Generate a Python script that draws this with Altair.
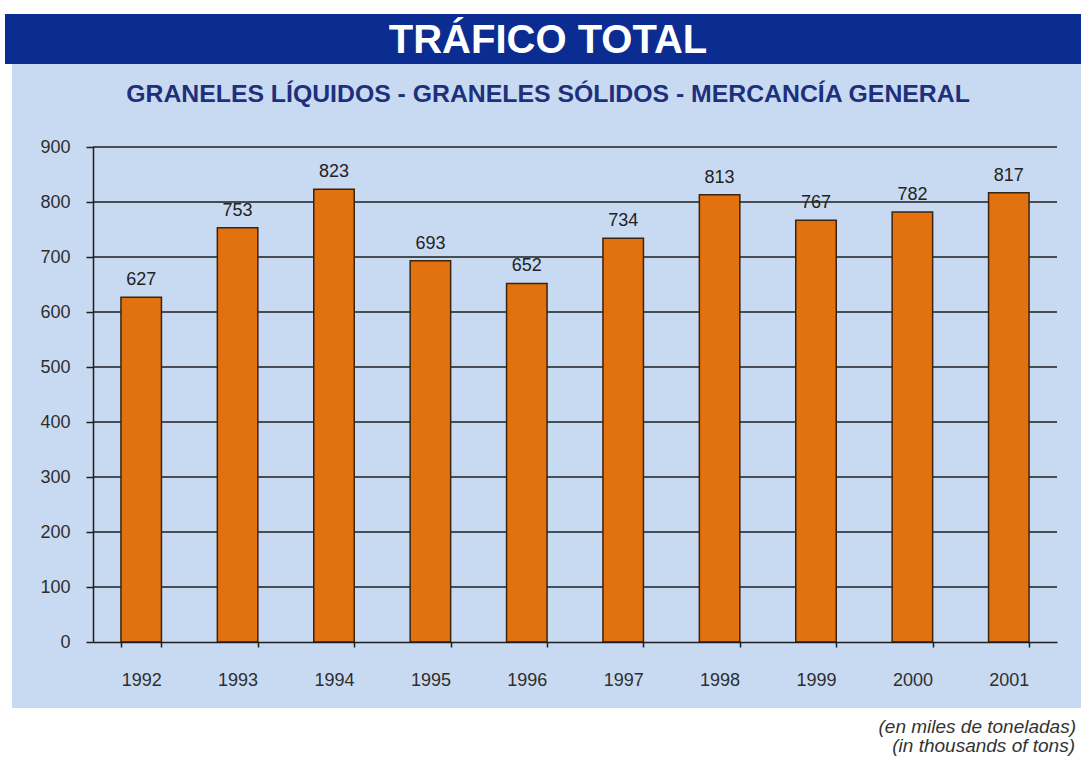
import altair as alt
import pandas as pd

years = ["1992", "1993", "1994", "1995", "1996", "1997", "1998", "1999", "2000", "2001"]
values = [627, 753, 823, 693, 652, 734, 813, 767, 782, 817]
y_ticks = [0, 100, 200, 300, 400, 500, 600, 700, 800, 900]
grid_lines = [100, 200, 300, 400, 500, 600, 700, 800, 900]

title_text = "TRÁFICO TOTAL"
subtitle_text = "GRANELES LÍQUIDOS - GRANELES SÓLIDOS - MERCANCÍA GENERAL"
note_lines = ["(en miles de toneladas)", "(in thousands of tons)"]

df = pd.DataFrame({"year": years, "value": values})
grid_df = pd.DataFrame({"value": grid_lines})
one = pd.DataFrame({"a": [0]})

W, H = 964, 495
FONT = "Liberation Sans, Arial, sans-serif"
DARK = "#1e1e1e"

y_scale = alt.Scale(domain=[0, 900], nice=False)
x_scale = alt.Scale(paddingInner=0.58, paddingOuter=0.29)

y_axis = alt.Axis(title=None, values=y_ticks, grid=False, labelFontSize=18,
                  labelColor="#2e2e2e", labelFont=FONT, labelPadding=16, tickSize=7,
                  tickColor=DARK, tickWidth=1.5, domainColor=DARK, domainWidth=1.5,
                  zindex=1)

x_enc = alt.X(
    "year:N", sort=years, scale=x_scale,
    axis=alt.Axis(title=None, labelFontSize=18, labelColor="#2e2e2e", labelFont=FONT,
                  labelPadding=24, labelAngle=0, tickBand="extent", tickSize=5,
                  tickColor=DARK, tickWidth=1.5, domainColor=DARK, domainWidth=1.5,
                  grid=False, zindex=1),
)

panel = alt.Chart(one).mark_rect(color="#c8daf2").encode(
    x=alt.value(-81), x2=alt.value(988), y=alt.value(-83), y2=alt.value(561)
)
banner = alt.Chart(one).mark_rect(color="#0b2c91").encode(
    x=alt.value(-88), x2=alt.value(988), y=alt.value(-133), y2=alt.value(-83)
)
grid = alt.Chart(grid_df).mark_rule(color=DARK, strokeWidth=1.5).encode(
    y=alt.Y("value:Q", scale=y_scale, axis=y_axis)
)
bars = alt.Chart(df).mark_bar(color="#e2720f", stroke="#3a2410", strokeWidth=1.5).encode(
    x=x_enc, y=alt.Y("value:Q", scale=y_scale, axis=y_axis)
)
labels = alt.Chart(df).mark_text(
    baseline="bottom", dy=-8, fontSize=18, color="#222222", font=FONT
).encode(
    x=alt.X("year:N", sort=years), y=alt.Y("value:Q", scale=y_scale), text="value:Q"
)
title = alt.Chart(one).mark_text(
    text=title_text, fontSize=40, fontWeight="bold", color="white", font=FONT,
    align="center", baseline="middle"
).encode(x=alt.value(455), y=alt.value(-106))
subtitle = alt.Chart(one).mark_text(
    text=subtitle_text, fontSize=24.8, fontWeight="bold", color="#1e2f7c", font=FONT,
    align="center", baseline="middle"
).encode(x=alt.value(455), y=alt.value(-52))
note1 = alt.Chart(one).mark_text(
    text=note_lines[0], fontSize=19, fontStyle="italic", color="#333333", font=FONT,
    align="right", baseline="alphabetic"
).encode(x=alt.value(983), y=alt.value(586))
note2 = alt.Chart(one).mark_text(
    text=note_lines[1], fontSize=19, fontStyle="italic", color="#333333", font=FONT,
    align="right", baseline="alphabetic"
).encode(x=alt.value(982), y=alt.value(605))

chart = alt.layer(
    panel, banner, grid, bars, labels, title, subtitle, note1, note2
).properties(
    width=W, height=H,
    padding={"left": 93, "top": 147, "right": 24, "bottom": 117},
    autosize=alt.AutoSizeParams(type="none"),
    background="white",
).configure_view(stroke=None)

chart.save("out.html", embed_options={"renderer": "svg", "actions": False})
